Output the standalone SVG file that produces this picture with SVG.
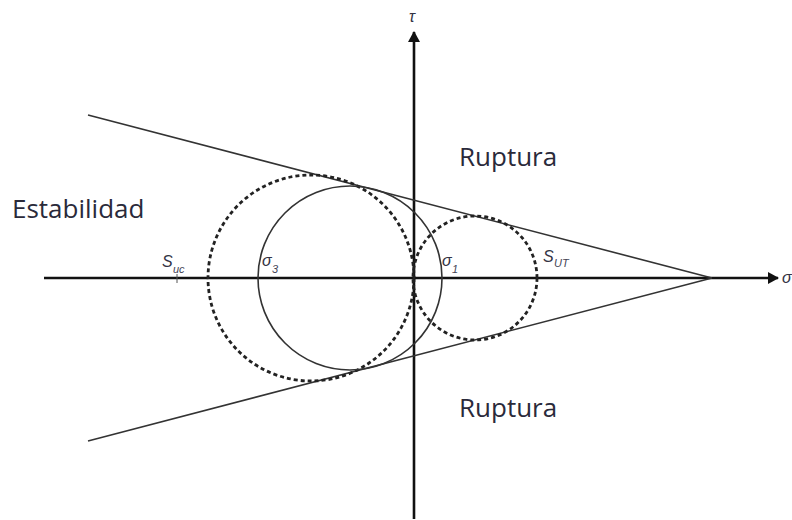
<svg xmlns="http://www.w3.org/2000/svg" width="792" height="520" viewBox="0 0 792 520">
<defs>
<style>
.axis{stroke:#111;stroke-width:2.6;fill:none}
.line{stroke:#333;stroke-width:1.6;fill:none}
.solid{stroke:#333;stroke-width:1.6;fill:none}
.dash{stroke:#222;stroke-width:2.8;fill:none;stroke-dasharray:4 3}
.big{font-family:"Open Sans","Noto Sans",sans-serif;font-size:26px;fill:#2a2a3a}
.sym{font-family:"Liberation Sans",Arial,sans-serif;font-style:italic;font-size:16px;fill:#334}
.sub{font-family:"Liberation Sans",Arial,sans-serif;font-style:italic;font-size:11px;fill:#445}
</style>
<marker id="arr" markerWidth="12" markerHeight="12" refX="10" refY="6" orient="auto" markerUnits="userSpaceOnUse">
<path d="M0,0 L11,6 L0,12 z" fill="#111"/>
</marker>
</defs>
<rect width="792" height="520" fill="#fff"/>
<g id="connectors">
<line class="axis" x1="44" y1="278" x2="778" y2="278" marker-end="url(#arr)"/>
<line class="axis" x1="414" y1="519" x2="414" y2="32" marker-end="url(#arr)"/>
<line class="line" x1="88" y1="115" x2="712" y2="278"/>
<line class="line" x1="88" y1="441" x2="712" y2="278"/>
<line x1="177" y1="274" x2="177" y2="283" stroke="#555" stroke-width="1"/>
</g>
<g id="circle-big-dashed"><circle class="dash" cx="311" cy="278" r="103"/></g>
<g id="circle-solid"><circle class="solid" cx="350" cy="278" r="92"/></g>
<g id="circle-small-dashed"><circle class="dash" cx="475" cy="278" r="62"/></g>
<g id="labels">
<text class="sym" x="409" y="22" font-size="13">τ</text>
<text class="sym" x="782" y="283" font-size="12">σ</text>
<text class="big" x="12" y="218" font-size="27.5">Estabilidad</text>
<text class="big" x="459" y="166">Ruptura</text>
<text class="big" x="459" y="417">Ruptura</text>
<text class="sym" x="162" y="267">S</text><text class="sub" x="173" y="273">uc</text>
<text class="sym" x="262" y="266">σ</text><text class="sub" x="272" y="273">3</text>
<text class="sym" x="442" y="266">σ</text><text class="sub" x="452" y="273">1</text>
<text class="sym" x="543" y="262">S</text><text class="sub" x="554" y="267">UT</text>
</g>
</svg>
